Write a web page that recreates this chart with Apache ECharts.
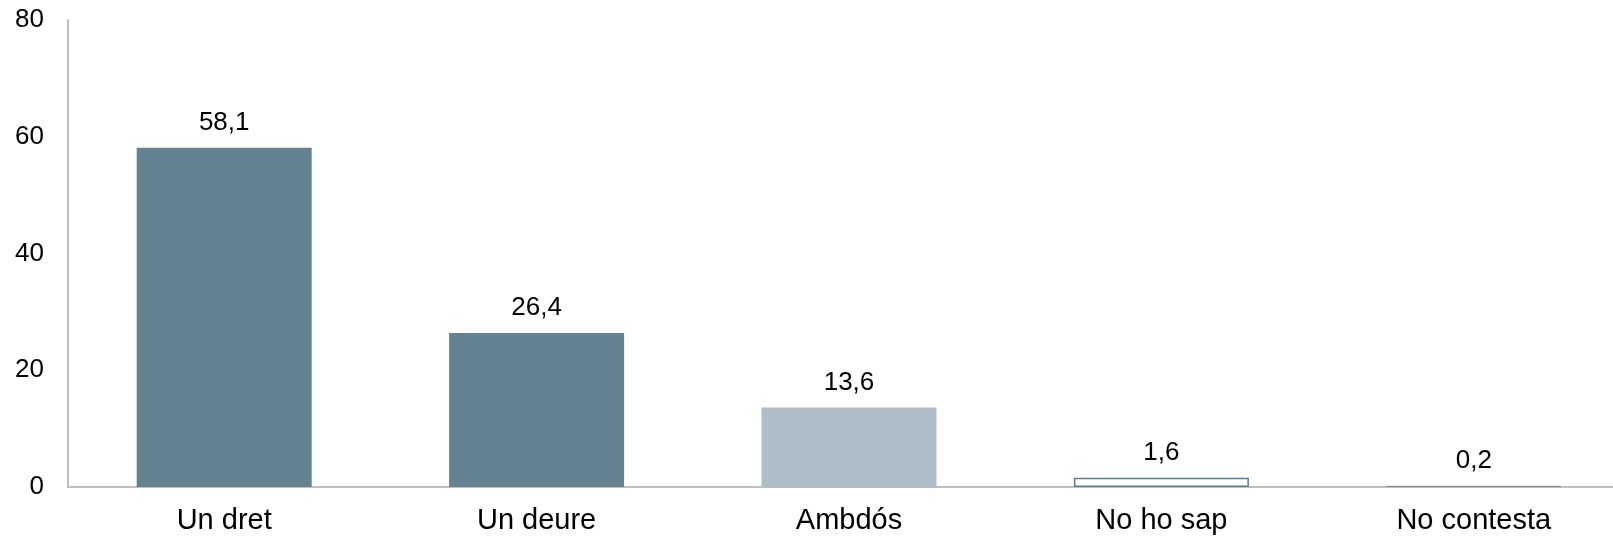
<!DOCTYPE html>
<html>
<head>
<meta charset="utf-8">
<script src="https://cdn.jsdelivr.net/npm/echarts@6/dist/echarts.min.js"></script>
<style>
html,body{margin:0;padding:0;background:#fff;overflow:hidden;width:1613px;height:538px;}
#chart{width:1630px;height:538px;}
</style>
</head>
<body>
<div id="chart"></div>
<script>
var categories = ['Un dret', 'Un deure', 'Ambdós', 'No ho sap', 'No contesta'];
var values = [58.1, 26.4, 13.6, 1.6, 0.2];
var yTicks = [0, 20, 40, 60, 80];

var barStyles = [
  {color: '#64828F'},
  {color: '#64828F'},
  {color: '#AEBDC7'},
  {color: '#FFFFFF', borderColor: '#5B7C93', borderWidth: 1.5},
  {color: '#8C8C8C', borderColor: '#8C8C8C', borderWidth: 1}
];

var FONT = 'Liberation Sans, Arial, sans-serif';
var chart = echarts.init(document.getElementById('chart'));
chart.setOption({
  animation: false,
  grid: {left: 68, right: 0, top: 20, bottom: 51},
  xAxis: {
    type: 'category',
    data: categories,
    axisLine: {lineStyle: {color: '#BFBFBF', width: 2}},
    axisTick: {show: false},
    axisLabel: {color: '#000', fontSize: 29, fontFamily: FONT, margin: 19}
  },
  yAxis: {
    type: 'value',
    min: yTicks[0],
    max: yTicks[yTicks.length - 1],
    interval: 20,
    axisLine: {show: true, lineStyle: {color: '#BFBFBF', width: 2}},
    axisTick: {show: false},
    splitLine: {show: false},
    axisLabel: {color: '#000', fontSize: 26, fontFamily: FONT, margin: 24}
  },
  series: [{
    type: 'bar',
    barWidth: 175,
    data: values.map(function (v, i) { return {value: v, itemStyle: barStyles[i]}; }),
    label: {
      show: true,
      position: 'top',
      distance: 12,
      color: '#000',
      fontSize: 26,
      fontFamily: FONT,
      formatter: function (p) { return String(p.value).replace('.', ','); }
    }
  }]
});
</script>
</body>
</html>
